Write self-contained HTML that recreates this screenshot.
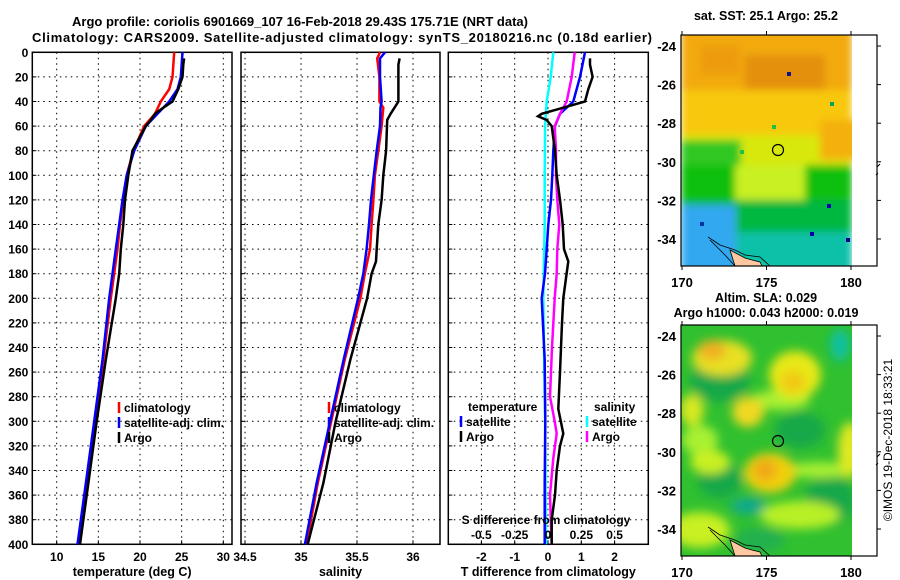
<!DOCTYPE html>
<html><head><meta charset="utf-8">
<style>
html,body{margin:0;padding:0;background:#fff;}
svg{display:block;font-family:"Liberation Sans",sans-serif;font-weight:bold;}
</style></head>
<body>
<svg id="fig" width="900" height="580" viewBox="0 0 900 580" xmlns="http://www.w3.org/2000/svg">
<defs>
<filter id="blur1" x="-20%" y="-20%" width="140%" height="140%"><feGaussianBlur stdDeviation="4"/></filter>
<filter id="blur2" x="-50%" y="-50%" width="200%" height="200%"><feGaussianBlur stdDeviation="5"/></filter>
<clipPath id="clipm1"><rect x="681" y="35" width="171" height="231"/></clipPath>
<clipPath id="clipm2"><rect x="681" y="325" width="171" height="231"/></clipPath>
</defs>
<text x="300" y="26" text-anchor="middle" font-size="13">Argo profile: coriolis 6901669_107 16-Feb-2018 29.43S 175.71E (NRT data)</text>
<text x="342" y="42" text-anchor="middle" font-size="13" textLength="620">Climatology: CARS2009. Satellite-adjusted climatology: synTS_20180216.nc (0.18d earlier)</text>
<g id="panels"></g>
<g id="maps"></g>
<text transform="translate(892,440) rotate(-90)" text-anchor="middle" font-size="12" font-weight="normal">©IMOS 19-Dec-2018 18:33:21</text>
</svg>
<script>
// ---- data (depth in m) ----
const tDepthArgo = [5,10,20,30,40,45,50,55,60,80,100,120,140,160,180,200,250,300,350,400];
const tArgo      = [25.3,25.2,25.1,24.6,23.9,22.8,21.8,21.3,20.7,19.1,18.6,18.2,18.0,17.7,17.5,17.1,15.9,14.8,13.8,12.8];
const tDepthClim = [0,20,30,40,50,60,80,100,120,140,160,200,250,300,350,400];
const tClim      = [24.1,23.9,23.5,22.5,21.8,20.5,19.2,18.4,18.0,17.6,17.3,16.5,15.6,14.6,13.6,12.6];
const tSat       = [25.1,24.9,24.5,23.5,22.1,20.7,19.3,18.4,17.9,17.5,17.1,16.3,15.5,14.5,13.5,12.5];
const sDepthArgo = [5,10,40,50,55,80,100,120,140,160,170,180,200,250,300,350,400];
const sArgo      = [35.88,35.87,35.87,35.80,35.77,35.76,35.735,35.72,35.69,35.676,35.67,35.63,35.59,35.44,35.31,35.2,35.06];
const sDepthClim = [0,5,20,40,45,60,80,100,120,140,160,180,200,250,300,350,400];
const sClim      = [35.705,35.68,35.70,35.70,35.735,35.72,35.69,35.66,35.646,35.63,35.616,35.57,35.53,35.39,35.27,35.15,35.05];
const sSat       = [35.75,35.705,35.705,35.72,35.71,35.705,35.676,35.65,35.625,35.607,35.586,35.556,35.51,35.38,35.26,35.14,35.035];
const dDepthT    = [0,20,40,50,60,80,100,120,140,160,180,200,250,300,350,400];
const dTSat      = [1.11,0.96,0.76,0.36,0.21,0.16,0.13,0.09,0.01,-0.04,-0.09,-0.19,-0.1,-0.08,-0.1,-0.1];
const dDepthTA   = [5,10,20,30,40,45,50,52,55,60,80,100,120,140,160,170,180,200,220,260,290,310,320,340,360,380,400];
const dTArgo     = [1.26,1.26,1.34,1.21,1.11,0.46,-0.19,-0.3,-0.04,0.11,0.21,0.26,0.36,0.44,0.48,0.61,0.56,0.46,0.42,0.36,0.31,0.46,0.36,0.26,0.21,0.11,0.11];
const dDepthS    = [0,20,40,50,60,80,100,120,140,160,180,200,240,280,300,310,330,360,400];
const dSArgo     = [0.2,0.178,0.14,0.09,0.05,0.06,0.06,0.07,0.085,0.07,0.065,0.05,0.03,0.015,0.05,0.065,0.04,0.015,0.028];
const dDepthSS   = [0,20,40,60,100,140,200,300,400];
const dSSat      = [0.04,0.02,-0.01,-0.022,-0.025,-0.025,-0.035,-0.022,-0.015];
const depthTicks = [0,20,40,60,80,100,120,140,160,180,200,220,240,260,280,300,320,340,360,380,400];
const tTicks = [10,15,20,25,30];
const sTicks = [34.5,35,35.5,36];
const dTTicks = [-2,-1,0,1,2];
const dSTickLabels = ['-0.5','-0.25','0','0.25','0.5'];
const dSTicks = [-0.5,-0.25,0,0.25,0.5];

// ---- scales ----
const Y0 = 52.3, YK = 1.23;
const yy = d => Y0 + d*YK;
const tx = t => 56.7 + (t-10)*8.33;
const sx = s => 301 + (s-35)*112;
const dx = t => 548 + t*33.3;
const dsx = s => 548 + s*133.3;

const NS = 'http://www.w3.org/2000/svg';
function mk(tag, attrs, parent){ const e=document.createElementNS(NS,tag); for(const k in attrs) e.setAttribute(k,attrs[k]); parent.appendChild(e); return e; }
const P = document.getElementById('panels');

function panel(name, x0, x1, xticks, xfn, xlabels, title, leftLabels){
  const g = mk('g',{},P);
  
  
  depthTicks.forEach(d=>{
    const l = mk('line',{x1:x0,x2:x1,y1:yy(d),y2:yy(d),stroke:'#000','stroke-width':1,'stroke-dasharray':'1.5 4'},g);
    
    
    mk('line',{x1:x0,x2:x0+4,y1:yy(d),y2:yy(d),stroke:'#000'},g);
    if(leftLabels){
      const t = mk('text',{x:x0-4,y:yy(d)+4.5,'text-anchor':'end','font-size':12},g);
      t.textContent = d;
      
      
    }
  });
  xticks.forEach((v,i)=>{
    const X = xfn(v);
    const l = mk('line',{x1:X,x2:X,y1:Y0,y2:yy(400),stroke:'#000','stroke-width':1,'stroke-dasharray':'1.5 4'},g);
    
    
    mk('line',{x1:X,x2:X,y1:yy(400),y2:yy(400)-4,stroke:'#000'},g);
    const t = mk('text',{x:X,y:561,'text-anchor':'middle','font-size':12},g);
    t.textContent = xlabels[i];
    
    
  });
  const b = mk('rect',{x:x0,y:Y0,width:x1-x0,height:yy(400)-Y0,fill:'none',stroke:'#000','stroke-width':1.5},g);
  
  
  const tt = mk('text',{x:(x0+x1)/2,y:576,'text-anchor':'middle','font-size':12.5},g);
  tt.textContent = title;
  
  
  return g;
}
function series(g, name, depths, vals, xfn, color, w){
  const pts = depths.map((d,i)=>xfn(vals[i]).toFixed(1)+','+yy(d).toFixed(1)).join(' ');
  const p = mk('polyline',{points:pts,fill:'none',stroke:color,'stroke-width':w||2.5,'stroke-linejoin':'miter'},g);
  
  
}
function legend(g, x, y, color, label){
  mk('line',{x1:x,x2:x,y1:y-10,y2:y+1,stroke:color,'stroke-width':2.5},g);
  const t = mk('text',{x:x+5,y:y,'font-size':12},g);
  t.textContent = label;
  
  
}

// Panel 1: temperature
const g1 = panel('temperature-panel', 32.3, 232, tTicks, tx, tTicks.map(String), 'temperature (deg C)', true);
series(g1,'temp-climatology-line',tDepthClim,tClim,tx,'#f00');
series(g1,'temp-satellite-line',tDepthClim,tSat,tx,'#00f');
series(g1,'temp-argo-line',tDepthArgo,tArgo,tx,'#000');
legend(g1,119,412,'#f00','climatology');
legend(g1,119,427,'#00f','satellite-adj. clim.');
legend(g1,119,442,'#000','Argo');

// Panel 2: salinity
const g2 = panel('salinity-panel', 241, 440, sTicks, sx, sTicks.map(String), 'salinity', false);
series(g2,'sal-climatology-line',sDepthClim,sClim,sx,'#f00');
series(g2,'sal-satellite-line',sDepthClim,sSat,sx,'#00f');
series(g2,'sal-argo-line',sDepthArgo,sArgo,sx,'#000');
legend(g2,329,412,'#f00','climatology');
legend(g2,329,427,'#00f','satellite-adj. clim.');
legend(g2,329,442,'#000','Argo');

// Panel 3: differences
const g3 = panel('difference-panel', 448.3, 648.3, dTTicks, dx, dTTicks.map(String), 'T difference from climatology', false);
series(g3,'s-diff-satellite-line',dDepthSS,dSSat,dsx,'#0ff');
series(g3,'t-diff-satellite-line',dDepthT,dTSat,dx,'#00f');
series(g3,'s-diff-argo-line',dDepthS,dSArgo,dsx,'#f0f');
series(g3,'t-diff-argo-line',dDepthTA,dTArgo,dx,'#000');
(function(){
  const t = mk('text',{x:468,y:411,'font-size':12},g3); t.textContent='temperature';
   
  const s = mk('text',{x:594,y:411,'font-size':12},g3); s.textContent='salinity';
   
})();
legend(g3,461,426,'#00f','satellite');
legend(g3,461,441,'#000','Argo');
legend(g3,587,426,'#0ff','satellite');
legend(g3,587,441,'#f0f','Argo');
(function(){
  const t = mk('text',{x:546,y:524,'text-anchor':'middle','font-size':12},g3);
  t.textContent='S difference from climatology';
   
  dSTicks.forEach((v,i)=>{
    const l = mk('text',{x:dsx(v),y:539,'text-anchor':'middle','font-size':12},g3);
    l.textContent = dSTickLabels[i];
     
  });
})();

// ---- maps ----
const M = document.getElementById('maps');
const lonTicks=[170,175,180];
const latTicks=[-24,-26,-28,-30,-32,-34];
const lonX = lon => 682 + (lon-170)*16.9;
function mapFrame(name, top, latY, titles){
  const g = mk('g',{},M);
  
  
  mk('rect',{x:681,y:top,width:196,height:231,fill:'none',stroke:'#000','stroke-width':1.2},g);
  lonTicks.forEach(l=>{
    const X=lonX(l);
    mk('line',{x1:X,x2:X,y1:top,y2:top-4,stroke:'#000'},g);
    mk('line',{x1:X,x2:X,y1:top+231,y2:top+235,stroke:'#000'},g);
    const t=mk('text',{x:X,y:top+252,'text-anchor':'middle','font-size':13},g);
    t.textContent=l;
     
  });
  latTicks.forEach(l=>{
    const Y=latY(l);
    mk('line',{x1:877,x2:881,y1:Y,y2:Y,stroke:'#000'},g);
    const t=mk('text',{x:676,y:Y+5,'text-anchor':'end','font-size':13},g);
    t.textContent=l;
     
  });
  titles.forEach((s,i)=>{
    const t=mk('text',{x:766,y:(i==0?(titles.length>1?302:20):317),'text-anchor':'middle','font-size':12.5},g);
    t.textContent=s;
     
  });
  mk('path',{d:'M877 '+(top+132)+' l3 -3 M876 '+(top+140)+' l2 -2',stroke:'#000','stroke-width':1},g);
  return g;
}
// Map 1 SST
(function(){
  const g = mk('g',{'clip-path':'url(#clipm1)'},M);
   
  const b = mk('g',{filter:'url(#blur1)'},g);
  [['681','25','171','70','#f2aa10'],['681','90','171','50','#f8c810'],['681','135','171','35','#d8e810'],
   ['681','140','60','30','#30c820'],['681','165','171','40','#10c010'],['735','165','70','45','#c8f020'],
   ['681','200','171','40','#00b840'],['681','232','171','40','#10c0a8'],['681','205','55','70','#30a8f0'],
   ['745','55','80','35','#e49008'],['700','45','40','30','#ee9c10'],['820','120','40','40','#f4b010']
  ].forEach(r=>mk('rect',{x:r[0],y:r[1],width:r[2],height:r[3],fill:r[4]},b));
  [[787,72,'#118'],[830,102,'#00a060'],[846,238,'#008'],[810,232,'#00a'],[772,125,'#20c040'],[740,150,'#20c040'],[827,204,'#10b'],[700,222,'#0030a0']]
    .forEach(c=>mk('rect',{x:c[0],y:c[1],width:4,height:4,fill:c[2]},g));
  mk('path',{d:'M730 250 L745 258 L752 260 L760 262 L762 266 L735 266 Z',fill:'#ffc8a0',stroke:'#000','stroke-width':0.8},g);
  mk('path',{d:'M708 237 L720 245 L735 250 L745 255 L760 257 L770 266 M710 240 L725 255 L735 266',fill:'none',stroke:'#000','stroke-width':0.8},g);
  const c = mk('circle',{cx:778,cy:150,r:5.5,fill:'none',stroke:'#000','stroke-width':1.2},M);
   
  mapFrame('sst-map', 35, l => 46 + (-24-l)*19.3, ['sat. SST: 25.1 Argo: 25.2']);
})();
// Map 2 SLA
(function(){
  const g = mk('g',{'clip-path':'url(#clipm2)'},M);
   
  mk('rect',{x:681,y:325,width:171,height:231,fill:'#30c030'},g);
  const b = mk('g',{filter:'url(#blur2)'},g);
  [[720,380,30,22,'#18a848'],[800,430,25,18,'#18a848'],[830,500,25,25,'#18a848'],[720,480,22,18,'#18a848'],
   [700,440,18,15,'#a8f030'],[780,400,30,10,'#a8f030'],[820,470,35,8,'#a8f030'],[800,515,40,14,'#b8f028'],[700,530,30,18,'#c8f020'],
   [722,358,30,18,'#e8e020'],[712,350,14,10,'#f0b020'],[795,375,26,24,'#e8e818'],[793,382,12,11,'#f0c818'],
   [748,412,16,15,'#f0d820'],[692,410,12,16,'#d8e820'],[770,473,26,20,'#f0d010'],[765,470,12,11,'#f0a818'],
   [850,450,12,28,'#e0e820'],[710,462,20,12,'#c8f020'],
   [840,345,10,16,'#10c0a0'],[748,506,18,8,'#10a890'],[760,540,25,12,'#20b050']
  ].forEach(e=>mk('ellipse',{cx:e[0],cy:e[1],rx:e[2],ry:e[3],fill:e[4]},b));
  mk('path',{d:'M730 540 L745 548 L752 550 L760 552 L762 556 L735 556 Z',fill:'#ffc8a0',stroke:'#000','stroke-width':0.8},g);
  mk('path',{d:'M708 527 L720 535 L735 540 L745 545 L760 547 L770 556 M710 530 L725 545 L735 556',fill:'none',stroke:'#000','stroke-width':0.8},g);
  const c = mk('circle',{cx:778,cy:441,r:5.5,fill:'none',stroke:'#000','stroke-width':1.2},M);
   
  mapFrame('sla-map', 325, l => 336 + (-24-l)*19.3, ['Altim. SLA: 0.029','Argo h1000: 0.043 h2000: 0.019']);
})();
</script>
</body></html>
